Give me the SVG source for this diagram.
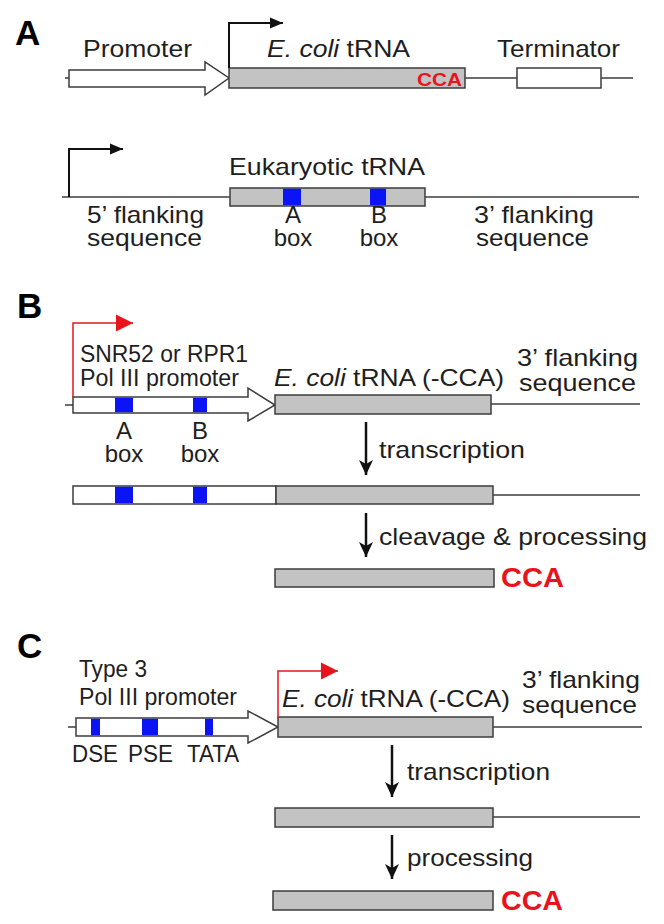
<svg xmlns="http://www.w3.org/2000/svg" width="664" height="924" viewBox="0 0 664 924">
<style>
.t{font-family:"Liberation Sans",Arial,sans-serif;font-size:24px;fill:#1e1e1e}
.sm{font-size:23px}
.lbl{font-family:"Liberation Sans",Arial,sans-serif;font-weight:bold;font-size:35px;fill:#000}
.cca{font-family:"Liberation Sans",Arial,sans-serif;font-weight:bold;fill:#e8141c}
.gray{fill:#c3c3c3;stroke:#3c3c3c;stroke-width:1.5}
.white{fill:#fff;stroke:#3c3c3c;stroke-width:1.5}
.blue{fill:#0a14f5}
.dna{stroke:#3c3c3c;stroke-width:1.5;fill:none}
.bent{stroke:#111;stroke-width:2;fill:none}
.red{stroke:#e8141c;stroke-width:1.5;fill:none}
.down{stroke:#111;stroke-width:2.5;fill:none}
.it{font-style:italic}
</style>
<defs>
<marker id="hb" markerUnits="userSpaceOnUse" markerWidth="14" markerHeight="12" refX="13" refY="6" orient="auto"><path d="M0,0.5 L13,6 L0,11.5 z" fill="#111"/></marker>
<marker id="hr" markerUnits="userSpaceOnUse" markerWidth="18" markerHeight="18" refX="17" refY="9" orient="auto"><path d="M0,0.5 L17,9 L0,17.5 z" fill="#e8141c"/></marker>
<marker id="hd" markerUnits="userSpaceOnUse" markerWidth="16" markerHeight="14" refX="15" refY="7" orient="auto"><path d="M0,0 L15,7 L0,14 L4,7 z" fill="#111"/></marker>
</defs>

<!-- Panel A -->
<text class="lbl" x="15" y="45">A</text>
<g id="a-promoter">
<line class="dna" x1="65" y1="78" x2="69" y2="78"/>
<polygon class="white" points="69,70 205,70 205,62 229,78 205,95 205,87 69,87"/>
<text class="t" x="83" y="57" textLength="109" lengthAdjust="spacingAndGlyphs">Promoter</text>
</g>
<g id="a-trna">
<rect class="gray" x="229" y="68" width="236" height="20"/>
<text class="t" x="267" y="57" textLength="143" lengthAdjust="spacingAndGlyphs"><tspan class="it">E. coli</tspan> tRNA</text>
<text class="cca" x="417" y="86" font-size="18" textLength="45" lengthAdjust="spacingAndGlyphs">CCA</text>
</g>
<g id="a-terminator">
<line class="dna" x1="465" y1="78" x2="517" y2="78"/>
<rect class="white" x="517" y="68" width="84" height="20"/>
<line class="dna" x1="601" y1="78" x2="633" y2="78"/>
<text class="t" x="497" y="57" textLength="123" lengthAdjust="spacingAndGlyphs">Terminator</text>
</g>
<g id="a-euk">
<line class="dna" x1="62" y1="197" x2="639" y2="197"/>
<rect class="gray" x="230" y="188" width="195" height="18"/>
<rect class="blue" x="283" y="188.8" width="18" height="16.4"/>
<rect class="blue" x="370" y="188.8" width="16" height="16.4"/>
<text class="t" x="229" y="175" textLength="196" lengthAdjust="spacingAndGlyphs">Eukaryotic tRNA</text>
<text class="t" x="87" y="223" textLength="117" lengthAdjust="spacingAndGlyphs">5’ flanking</text>
<text class="t" x="87" y="246" textLength="115" lengthAdjust="spacingAndGlyphs">sequence</text>
<text class="t" x="293" y="223" text-anchor="middle">A</text>
<text class="t" x="293" y="246" text-anchor="middle">box</text>
<text class="t" x="379" y="223" text-anchor="middle">B</text>
<text class="t" x="379" y="246" text-anchor="middle">box</text>
<text class="t" x="474" y="223" textLength="120" lengthAdjust="spacingAndGlyphs">3’ flanking</text>
<text class="t" x="476" y="246" textLength="113" lengthAdjust="spacingAndGlyphs">sequence</text>
</g>

<!-- Panel B -->
<text class="lbl" x="17" y="318">B</text>
<g id="b-promoter">
<line class="dna" x1="65" y1="405" x2="73" y2="405"/>
<polygon class="white" points="73,397 248,397 248,388 275,405 248,421 248,413 73,413"/>
<rect class="blue" x="115" y="397.8" width="18" height="14.4"/>
<rect class="blue" x="193" y="397.8" width="14" height="14.4"/>
<text class="t sm" x="80" y="362" textLength="168" lengthAdjust="spacingAndGlyphs">SNR52 or RPR1</text>
<text class="t sm" x="80" y="386" textLength="159" lengthAdjust="spacingAndGlyphs">Pol III promoter</text>
<text class="t" x="124" y="439" text-anchor="middle">A</text>
<text class="t" x="124" y="462" text-anchor="middle">box</text>
<text class="t" x="200" y="439" text-anchor="middle">B</text>
<text class="t" x="200" y="462" text-anchor="middle">box</text>
</g>
<g id="b-trna">
<rect class="gray" x="275" y="395" width="216" height="19"/>
<line class="dna" x1="491" y1="404" x2="640" y2="404"/>
<text class="t" x="274" y="386" textLength="230" lengthAdjust="spacingAndGlyphs"><tspan class="it">E. coli</tspan> tRNA (-CCA)</text>
<text class="t" x="517" y="366" textLength="121" lengthAdjust="spacingAndGlyphs">3’ flanking</text>
<text class="t" x="519" y="391" textLength="117" lengthAdjust="spacingAndGlyphs">sequence</text>
</g>
<g id="b-transcript">
<rect class="white" x="73" y="486" width="203" height="18"/>
<rect class="blue" x="115" y="486.8" width="18" height="16.4"/>
<rect class="blue" x="193" y="486.8" width="14" height="16.4"/>
<rect class="gray" x="276" y="486" width="217" height="18"/>
<line class="dna" x1="493" y1="495" x2="640" y2="495"/>
</g>
<g id="b-mature">
<rect class="gray" x="275" y="569" width="219" height="18"/>
<text class="cca" x="501" y="587" font-size="27" textLength="63" lengthAdjust="spacingAndGlyphs">CCA</text>
</g>
<text class="t" x="379" y="458" textLength="146" lengthAdjust="spacingAndGlyphs">transcription</text>
<text class="t" x="379" y="545" textLength="268" lengthAdjust="spacingAndGlyphs">cleavage &amp; processing</text>

<!-- Panel C -->
<text class="lbl" x="17" y="658">C</text>
<g id="c-promoter">
<line class="dna" x1="68" y1="727" x2="76" y2="727"/>
<polygon class="white" points="76,718 248,718 248,711 278,727 248,743 248,736 76,736"/>
<rect class="blue" x="91" y="718.8" width="9" height="16.4"/>
<rect class="blue" x="142" y="718.8" width="16" height="16.4"/>
<rect class="blue" x="205" y="718.8" width="8" height="16.4"/>
<text class="t" x="79" y="677" textLength="68" lengthAdjust="spacingAndGlyphs">Type 3</text>
<text class="t" x="79" y="705" textLength="158" lengthAdjust="spacingAndGlyphs">Pol III promoter</text>
<text class="t" x="72" y="762" textLength="46" lengthAdjust="spacingAndGlyphs">DSE</text>
<text class="t" x="128" y="762" textLength="45" lengthAdjust="spacingAndGlyphs">PSE</text>
<text class="t" x="187" y="762" textLength="52" lengthAdjust="spacingAndGlyphs">TATA</text>
</g>
<g id="c-trna">
<rect class="gray" x="278" y="717" width="215" height="20"/>
<line class="dna" x1="493" y1="727" x2="642" y2="727"/>
<text class="t" x="282" y="707" textLength="228" lengthAdjust="spacingAndGlyphs"><tspan class="it">E. coli</tspan> tRNA (-CCA)</text>
<text class="t" x="522" y="688" textLength="118" lengthAdjust="spacingAndGlyphs">3’ flanking</text>
<text class="t" x="522" y="713" textLength="115" lengthAdjust="spacingAndGlyphs">sequence</text>
</g>
<g id="c-transcript">
<rect class="gray" x="275" y="808" width="218" height="19"/>
<line class="dna" x1="493" y1="817" x2="640" y2="817"/>
</g>
<g id="c-mature">
<rect class="gray" x="273" y="891" width="220" height="19"/>
<text class="cca" x="501" y="910" font-size="27" textLength="62" lengthAdjust="spacingAndGlyphs">CCA</text>
</g>
<text class="t" x="407" y="780" textLength="143" lengthAdjust="spacingAndGlyphs">transcription</text>
<text class="t" x="407" y="866" textLength="126" lengthAdjust="spacingAndGlyphs">processing</text>

<g id="connectors">
<path class="bent" d="M229,68 V23 H283" marker-end="url(#hb)"/>
<path class="bent" d="M69,197 V149 H123" marker-end="url(#hb)"/>
<path class="red" d="M73,397 V323 H133" marker-end="url(#hr)"/>
<path class="red" d="M278,717 V671 H338" marker-end="url(#hr)"/>
<line class="down" x1="366" y1="422" x2="366" y2="475" marker-end="url(#hd)"/>
<line class="down" x1="366" y1="513" x2="366" y2="557" marker-end="url(#hd)"/>
<line class="down" x1="392" y1="745" x2="392" y2="797" marker-end="url(#hd)"/>
<line class="down" x1="392" y1="835" x2="392" y2="879" marker-end="url(#hd)"/>
</g>
</svg>
